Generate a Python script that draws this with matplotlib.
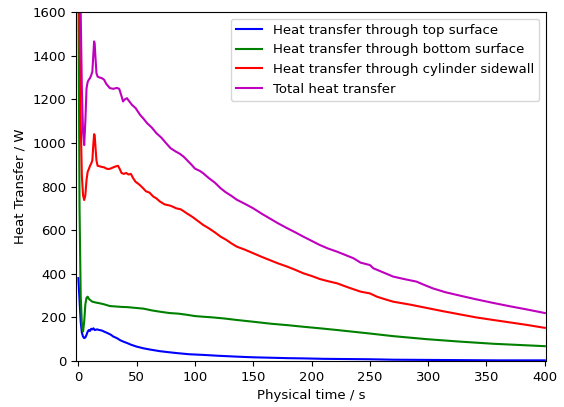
import numpy as np
import matplotlib
matplotlib.use('Agg')
import matplotlib.pyplot as plt

# values (time in s, heat transfer in W)
t_top = [0, 1, 2, 3, 4, 5, 6, 7, 8, 9, 10, 11, 12, 13, 14, 16, 18, 20, 22, 25, 28, 30,
         33, 36, 39, 42, 45, 50, 56, 62, 70, 78, 85, 95, 107, 120, 136, 150, 165, 180,
         193, 210, 230, 250, 270, 300, 330, 360, 400]
q_top = [380, 280, 180, 130, 112, 105, 108, 120, 135, 142, 138, 148, 145, 150, 142, 145,
         142, 140, 135, 128, 120, 112, 105, 95, 88, 82, 75, 66, 58, 52, 45, 40, 36, 31,
         28, 24, 20, 17, 15, 13, 12, 10, 9, 8, 6, 5, 4, 3, 3]

t_bottom = [0, 1, 2, 3, 4, 5, 6, 7, 8, 9, 10, 12, 15, 18, 22, 27, 32, 37, 42, 48, 56, 63,
            70, 78, 86, 93, 100, 107, 115, 125, 136, 150, 165, 180, 193, 207, 222, 236,
            250, 270, 299, 327, 356, 384, 400]
q_bottom = [1800, 700, 300, 170, 135, 180, 260, 290, 295, 285, 280, 272, 268, 265, 260,
            252, 250, 248, 247, 244, 240, 232, 226, 220, 217, 212, 206, 203, 200, 195,
            188, 180, 171, 164, 157, 150, 142, 134, 126, 114, 100, 89, 79, 72, 68]

t_side = [0, 1, 2, 3, 4, 5, 6, 7, 8, 9, 10, 11, 12, 12.8, 13.5, 14, 14.7, 15.5, 16.5, 18,
          20, 22, 24, 26, 28, 30, 32, 34, 35.5, 37, 39, 41, 43, 45, 47, 49, 52, 55, 58,
          61, 64, 67, 70, 74, 79, 84, 88, 93, 98, 103, 107, 112, 117, 122, 127, 131, 136,
          143, 150, 157, 164, 171, 179, 186, 193, 200, 207, 214, 222, 229, 236, 242, 250,
          256, 263, 270, 285, 299, 313, 327, 341, 356, 370, 384, 400]
q_side = [2000, 1500, 1100, 850, 760, 738, 760, 830, 868, 880, 895, 905, 920, 990, 1040,
          1035, 980, 920, 895, 893, 890, 888, 882, 880, 883, 888, 892, 895, 880, 862, 858,
          862, 855, 858, 838, 822, 810, 795, 778, 772, 755, 745, 731, 718, 712, 700, 695,
          677, 660, 640, 624, 608, 590, 570, 555, 540, 524, 510, 494, 478, 463, 448, 433,
          418, 402, 390, 376, 366, 356, 342, 329, 318, 310, 295, 283, 272, 258, 243, 228,
          214, 200, 188, 177, 166, 152]

t_total = [0, 1, 2, 3, 4, 5, 6, 7, 8, 9, 10, 11, 12, 12.8, 13.5, 14, 14.8, 15.5, 16.5, 18,
           20, 22, 24, 27, 30, 33, 35, 37, 38.3, 40, 41.7, 43, 46, 49, 53, 56, 59, 63, 67,
           71, 75, 79, 83, 87, 90, 93, 97, 100, 104, 107, 112, 117, 122, 126, 131, 136,
           143, 150, 157, 164, 171, 179, 186, 193, 200, 207, 214, 222, 229, 236, 242, 250,
           253, 262, 270, 280, 290, 297, 304, 315, 327, 341, 356, 370, 384, 400]
q_total = [4000, 2500, 1600, 1250, 1050, 990, 1100, 1250, 1280, 1290, 1297, 1310, 1327,
           1400, 1465, 1455, 1380, 1320, 1304, 1300, 1297, 1290, 1270, 1251, 1248, 1252,
           1248, 1215, 1190, 1200, 1205, 1195, 1174, 1160, 1128, 1110, 1090, 1070, 1044,
           1025, 1000, 976, 962, 950, 938, 922, 900, 882, 872, 861, 838, 818, 792, 775,
           758, 739, 720, 700, 676, 654, 632, 609, 590, 570, 551, 532, 516, 501, 486, 471,
           451, 440, 425, 405, 387, 375, 364, 348, 333, 315, 300, 283, 266, 251, 237, 220]

plt.rcParams['font.size'] = 9.5

fig = plt.figure(figsize=(5.64, 4.07), dpi=100)
ax = fig.add_axes([0.1348, 0.113, 0.8332, 0.8575])

ax.plot(t_top, q_top, 'b-', label='Heat transfer through top surface')
ax.plot(t_bottom, q_bottom, 'g-', label='Heat transfer through bottom surface')
ax.plot(t_side, q_side, 'r-', label='Heat transfer through cylinder sidewall')
ax.plot(t_total, q_total, 'm-', label='Total heat transfer')

ax.set_xlim(-2, 401)
ax.set_ylim(0, 1600)
ax.set_xlabel('Physical time / s')
ax.set_ylabel('Heat Transfer / W')
ax.legend(loc='upper right', fontsize=9.5)

fig.savefig('out.png', dpi=100)
